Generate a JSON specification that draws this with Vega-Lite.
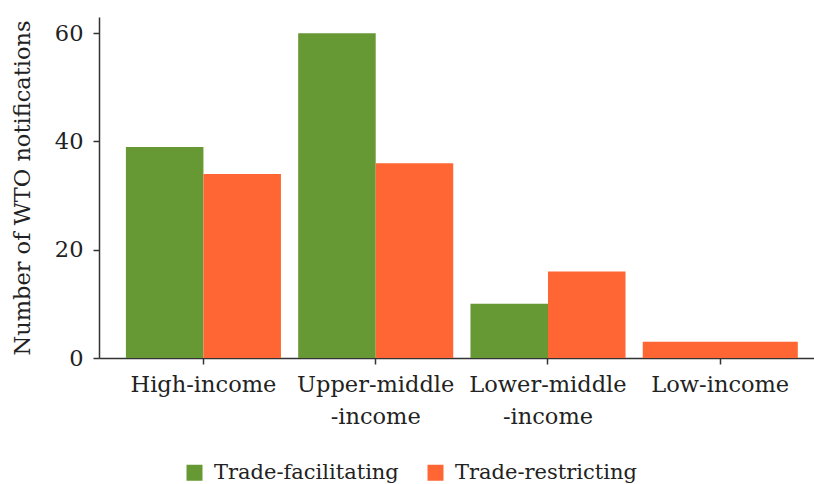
{
  "$schema": "https://vega.github.io/schema/vega-lite/v6.json",
  "width": 716,
  "height": 341,
  "autosize": "none",
  "padding": {"left": 99, "top": 17, "right": 0, "bottom": 126},
  "background": "white",
  "config": {
    "view": {"stroke": null},
    "font": "DejaVu Serif",
    "axis": {"labelFont": "DejaVu Serif", "titleFont": "DejaVu Serif", "labelColor": "#222", "titleColor": "#222", "domainColor": "#333", "tickColor": "#333", "labelFontSize": 22.5, "titleFontSize": 22.5, "titleFontWeight": "normal", "grid": false, "domainWidth": 1.5, "tickWidth": 1.5},
    "legend": {"labelFont": "DejaVu Serif", "labelFontSize": 21, "labelColor": "#222", "labelLimit": 400}
  },
  "data": {
    "values": [
      {"income": "High-income", "type": "Trade-facilitating", "count": 39},
      {"income": "High-income", "type": "Trade-restricting", "count": 34},
      {"income": "Upper-middle-income", "type": "Trade-facilitating", "count": 60},
      {"income": "Upper-middle-income", "type": "Trade-restricting", "count": 36},
      {"income": "Lower-middle-income", "type": "Trade-facilitating", "count": 10},
      {"income": "Lower-middle-income", "type": "Trade-restricting", "count": 16},
      {"income": "Low-income", "type": "Trade-restricting", "count": 3}
    ]
  },
  "encoding": {
    "x": {
      "field": "income",
      "type": "nominal",
      "sort": ["High-income", "Upper-middle-income", "Lower-middle-income", "Low-income"],
      "scale": {"paddingInner": 0.1, "paddingOuter": 0.128, "align": 0.61},
      "axis": {"title": null, "labelAngle": 0, "tickSize": 6, "labelPadding": 9, "labelLineHeight": 32, "labelExpr": "split(replace(datum.label, 'middle-', 'middle|-'), '|')"}
    },
    "y": {
      "field": "count",
      "type": "quantitative",
      "scale": {"domain": [0, 63], "nice": false},
      "axis": {"title": "Number of WTO notifications", "values": [0, 20, 40, 60], "tickSize": 6, "labelPadding": 10, "titlePadding": 20}
    },
    "color": {
      "field": "type",
      "type": "nominal",
      "scale": {"domain": ["Trade-facilitating", "Trade-restricting"], "range": ["#669933", "#FF6633"]},
      "legend": {"title": null, "orient": "none", "legendX": 85, "legendY": 445, "direction": "horizontal", "symbolType": "square", "symbolSize": 256, "symbolStrokeWidth": 0, "labelOffset": 9, "columnPadding": 26}
    }
  },
  "layer": [
    {
      "transform": [{"filter": "datum.income != 'Low-income'"}],
      "mark": {"type": "bar"},
      "encoding": {"xOffset": {"field": "type", "type": "nominal", "sort": ["Trade-facilitating", "Trade-restricting"]}}
    },
    {
      "transform": [{"filter": "datum.income == 'Low-income'"}],
      "mark": {"type": "bar"}
    }
  ]
}
